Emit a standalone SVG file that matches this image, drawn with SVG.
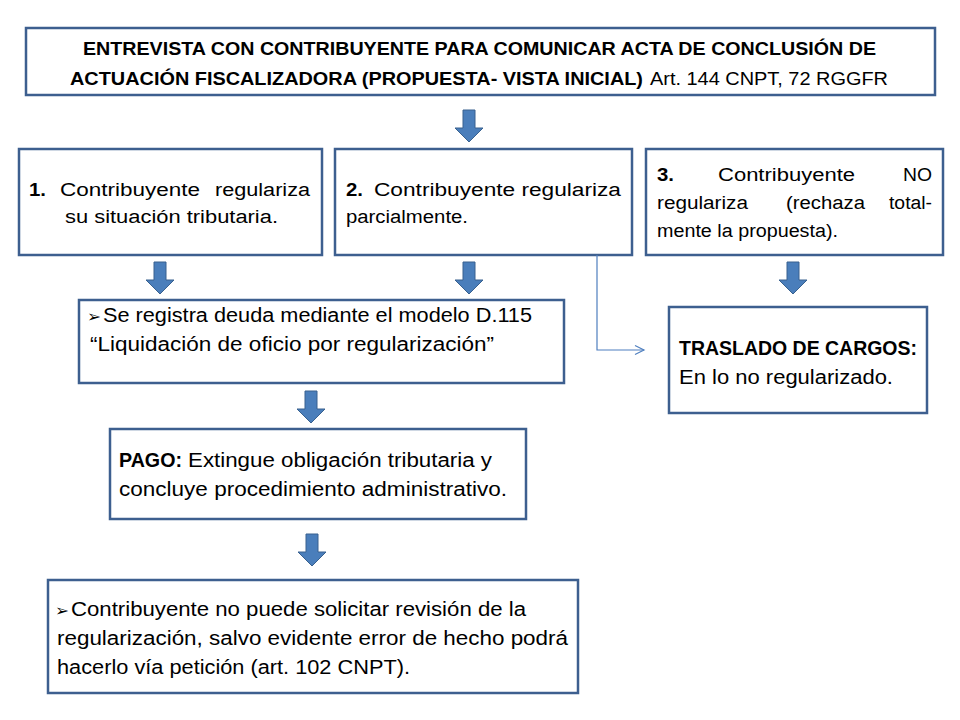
<svg xmlns="http://www.w3.org/2000/svg" width="960" height="720" viewBox="0 0 960 720">
<style>
.box{fill:#fff;stroke:#3d5f8f;stroke-width:2.5}
.t{font-family:"Liberation Sans",Arial,sans-serif;font-size:18px;fill:#000}
.m{font-size:19.5px}
.h{font-size:18.5px}
.b{font-weight:bold}
.arr{fill:#4a7ebb;stroke:#38618f;stroke-width:1}
.bul{font-family:"DejaVu Sans",sans-serif;font-size:16px;fill:#000}
.conn{fill:none;stroke:#4f7fbf;stroke-width:1.2}
</style>
<defs>
<linearGradient id="ag" x1="0" y1="0" x2="1" y2="0">
<stop offset="0" stop-color="#3f6fa8"/>
<stop offset="0.5" stop-color="#5a8fd0"/>
<stop offset="1" stop-color="#3f6fa8"/>
</linearGradient>
<path id="ba" d="M-6,0 H6 V18 H14 L0,32 L-14,18 H-6 Z"/>
<marker id="open" markerWidth="12" markerHeight="12" refX="10" refY="6" orient="auto" markerUnits="userSpaceOnUse">
<path d="M1,1.5 L10,6 L1,10.5" fill="none" stroke="#4f7fbf" stroke-width="1.2"/>
</marker>
</defs>
<rect width="960" height="720" fill="#fff"/>

<g id="top">
<rect class="box" x="26" y="28" width="909" height="67"/>
<text class="t h b" x="83" y="55" textLength="793" lengthAdjust="spacingAndGlyphs">ENTREVISTA CON CONTRIBUYENTE PARA COMUNICAR ACTA DE CONCLUSIÓN DE</text>
<text class="t h b" x="70" y="85" textLength="573" lengthAdjust="spacingAndGlyphs">ACTUACIÓN FISCALIZADORA (PROPUESTA- VISTA INICIAL)</text>
<text class="t h" x="650" y="85" textLength="238" lengthAdjust="spacingAndGlyphs">Art. 144 CNPT, 72 RGGFR</text>
</g>

<g id="opt1">
<rect class="box" x="19" y="149" width="303" height="106"/>
<text class="t b" x="29" y="196" textLength="17" lengthAdjust="spacingAndGlyphs">1.</text>
<text class="t" x="60" y="196" textLength="140" lengthAdjust="spacingAndGlyphs">Contribuyente</text>
<text class="t" x="215" y="196" textLength="95" lengthAdjust="spacingAndGlyphs">regulariza</text>
<text class="t" x="65" y="223" textLength="213" lengthAdjust="spacingAndGlyphs">su situación tributaria.</text>
</g>

<g id="opt2">
<rect class="box" x="335" y="149" width="297" height="106"/>
<text class="t b" x="346" y="196" textLength="17" lengthAdjust="spacingAndGlyphs">2.</text>
<text class="t" x="374" y="196" textLength="247" lengthAdjust="spacingAndGlyphs">Contribuyente regulariza</text>
<text class="t" x="346" y="223" textLength="122" lengthAdjust="spacingAndGlyphs">parcialmente.</text>
</g>

<g id="opt3">
<rect class="box" x="646" y="149" width="297" height="106"/>
<text class="t b" x="657" y="181" textLength="17" lengthAdjust="spacingAndGlyphs">3.</text>
<text class="t" x="718" y="181" textLength="137" lengthAdjust="spacingAndGlyphs">Contribuyente</text>
<text class="t" x="903" y="181" textLength="29" lengthAdjust="spacingAndGlyphs">NO</text>
<text class="t" x="657" y="209" textLength="91" lengthAdjust="spacingAndGlyphs">regulariza</text>
<text class="t" x="786" y="209" textLength="79" lengthAdjust="spacingAndGlyphs">(rechaza</text>
<text class="t" x="889" y="209" textLength="43" lengthAdjust="spacingAndGlyphs">total-</text>
<text class="t" x="657" y="237" textLength="181" lengthAdjust="spacingAndGlyphs">mente la propuesta).</text>
</g>

<g id="d115">
<rect class="box" x="79" y="300" width="485" height="83"/>
<text class="bul" x="87" y="322" textLength="14" lengthAdjust="spacingAndGlyphs">➢</text>
<text class="t m" x="103" y="322" textLength="429" lengthAdjust="spacingAndGlyphs">Se registra deuda mediante el modelo D.115</text>
<text class="t m" x="90" y="351" textLength="404" lengthAdjust="spacingAndGlyphs">“Liquidación de oficio por regularización”</text>
</g>

<g id="traslado">
<rect class="box" x="669" y="307" width="258" height="106"/>
<text class="t m b" x="679" y="355" textLength="238" lengthAdjust="spacingAndGlyphs">TRASLADO DE CARGOS:</text>
<text class="t m" x="679" y="384" textLength="214" lengthAdjust="spacingAndGlyphs">En lo no regularizado.</text>
</g>

<g id="pago">
<rect class="box" x="110" y="429" width="416" height="90"/>
<text class="t m b" x="119" y="467" textLength="63" lengthAdjust="spacingAndGlyphs">PAGO:</text>
<text class="t m" x="188" y="467" textLength="304" lengthAdjust="spacingAndGlyphs">Extingue obligación tributaria y</text>
<text class="t m" x="119" y="496" textLength="388" lengthAdjust="spacingAndGlyphs">concluye procedimiento administrativo.</text>
</g>

<g id="final">
<rect class="box" x="48" y="580" width="530" height="113"/>
<text class="bul" x="55" y="616" textLength="14" lengthAdjust="spacingAndGlyphs">➢</text>
<text class="t m" x="71" y="616" textLength="455" lengthAdjust="spacingAndGlyphs">Contribuyente no puede solicitar revisión de la</text>
<text class="t m" x="57" y="645" textLength="511" lengthAdjust="spacingAndGlyphs">regularización, salvo evidente error de hecho podrá</text>
<text class="t m" x="57" y="674" textLength="353" lengthAdjust="spacingAndGlyphs">hacerlo vía petición (art. 102 CNPT).</text>
</g>

<g id="connectors">
<use href="#ba" class="arr" fill="url(#ag)" transform="translate(469,110)"/>
<use href="#ba" class="arr" fill="url(#ag)" transform="translate(160,262)"/>
<use href="#ba" class="arr" fill="url(#ag)" transform="translate(469,262)"/>
<use href="#ba" class="arr" fill="url(#ag)" transform="translate(793,262)"/>
<use href="#ba" class="arr" fill="url(#ag)" transform="translate(311,391)"/>
<use href="#ba" class="arr" fill="url(#ag)" transform="translate(312,534)"/>
<path class="conn" d="M597,255 V350 H644" marker-end="url(#open)"/>
</g>
</svg>
